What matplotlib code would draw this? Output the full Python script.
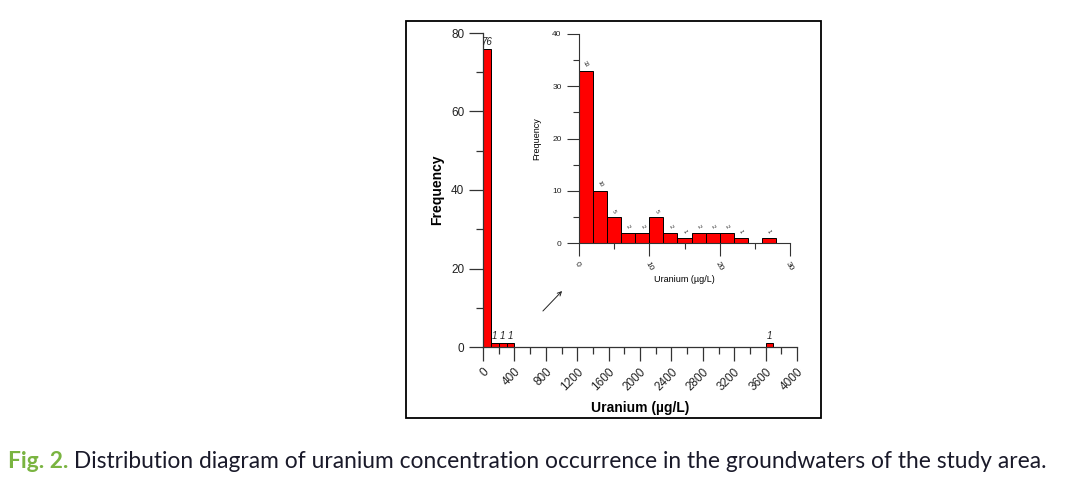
import matplotlib
matplotlib.use("Agg")
import matplotlib.pyplot as plt
from matplotlib.patches import Rectangle
from matplotlib.ticker import MultipleLocator

# ---- data ----
main_bin_left = [0, 100, 200, 300, 3600]
main_counts = [76, 1, 1, 1, 1]
main_bin_width = 100
main_xticks = [0, 400, 800, 1200, 1600, 2000, 2400, 2800, 3200, 3600, 4000]
main_yticks = [0, 20, 40, 60, 80]

inset_bin_left = [0, 2, 4, 6, 8, 10, 12, 14, 16, 18, 20, 22, 24, 26]
inset_counts = [33, 10, 5, 2, 2, 5, 2, 1, 2, 2, 2, 1, 0, 1]
inset_bin_width = 2
inset_xticks = [0, 10, 20, 30]
inset_yticks = [0, 10, 20, 30, 40]

caption_fig = "Fig. 2."
caption_text = " Distribution diagram of uranium concentration occurrence in the groundwaters of the study area."

W, H = 1068, 482
fig = plt.figure(figsize=(W / 100, H / 100), dpi=100)
plt.rcParams['font.family'] = ['Liberation Sans', 'DejaVu Sans']

def fx(px):
    return px / W

def fy(py):
    return 1 - py / H

# frame
fig.patches.append(Rectangle((fx(406), fy(418)), fx(821) - fx(406), fy(21) - fy(418),
                             transform=fig.transFigure, fill=False, edgecolor='black', lw=1.3))

axcol = '#333333'

# ---- main axes ----
ax = fig.add_axes([fx(483), fy(347), fx(797) - fx(483), fy(33) - fy(347)])
ax.bar(main_bin_left, main_counts, width=main_bin_width, align='edge',
       color='#ff0000', edgecolor='black', linewidth=0.7)
for xl, c in zip(main_bin_left, main_counts):
    ax.text(xl + main_bin_width / 2, c + 0.5, str(c), ha='center', va='bottom',
            fontsize=7, style='italic', color='#222222')
ax.set_xlim(0, 4000)
ax.set_ylim(0, 80)
ax.set_xticks(main_xticks)
ax.set_yticks(main_yticks)
ax.xaxis.set_minor_locator(MultipleLocator(200))
ax.yaxis.set_minor_locator(MultipleLocator(10))
ax.tick_params(axis='both', which='major', length=10, width=0.9, color=axcol, labelsize=8.5, labelcolor='#222222')
ax.tick_params(axis='both', which='minor', length=5, width=0.9, color=axcol)
ax.set_xticklabels([str(v) for v in main_xticks], rotation=45, ha='right', va='top', rotation_mode='anchor')
ax.spines['top'].set_visible(False)
ax.spines['right'].set_visible(False)
for s in ('left', 'bottom'):
    ax.spines[s].set_color(axcol)
    ax.spines[s].set_linewidth(0.9)
ax.set_ylabel("Frequency", fontsize=10, fontweight='bold', labelpad=5)
ax.set_xlabel("Uranium (\u00b5g/L)", fontsize=10, fontweight='bold', labelpad=6)
ax.patch.set_alpha(0)

# ---- inset axes ----
ia = fig.add_axes([fx(579), fy(243), fx(790) - fx(579), fy(34) - fy(243)])
ia.bar(inset_bin_left, inset_counts, width=inset_bin_width, align='edge',
       color='#ff0000', edgecolor='black', linewidth=0.7)
for xl, c in zip(inset_bin_left, inset_counts):
    if c > 0:
        ia.text(xl + inset_bin_width / 2, c + 0.6, str(c), ha='center', va='bottom',
                fontsize=4, rotation=-60, color='#222222')
ia.set_xlim(0, 30)
ia.set_ylim(0, 40)
ia.set_xticks(inset_xticks)
ia.set_yticks(inset_yticks)
ia.xaxis.set_minor_locator(MultipleLocator(5))
ia.yaxis.set_minor_locator(MultipleLocator(5))
ia.tick_params(axis='both', which='major', length=9, width=0.8, color=axcol, labelsize=6, labelcolor='#222222')
ia.tick_params(axis='both', which='minor', length=4.5, width=0.8, color=axcol)
ia.set_xticklabels([str(v) for v in inset_xticks], rotation=-60, ha='left', va='top', rotation_mode='anchor')
ia.spines['top'].set_visible(False)
ia.spines['right'].set_visible(False)
for s in ('left', 'bottom'):
    ia.spines[s].set_color(axcol)
    ia.spines[s].set_linewidth(0.8)
ia.set_ylabel("Frequency", fontsize=6.5, labelpad=8)
ia.set_xlabel("Uranium (\u00b5g/L)", fontsize=6.5, labelpad=2)
ia.patch.set_alpha(0)

# arrow
fig.add_artist(matplotlib.patches.FancyArrowPatch(
    (fx(541), fy(313)), (fx(564), fy(289)), transform=fig.transFigure,
    arrowstyle='->', mutation_scale=7, lw=0.7, color='#222222'))

# ---- caption ----
cap_fam = ['Lato', 'DejaVu Sans']
cap_size = 16
t1 = fig.text(fx(8), fy(468), caption_fig, fontsize=cap_size, fontweight='bold',
              color='#7ab441', family=cap_fam, va='baseline')
fig.canvas.draw()
r = fig.canvas.get_renderer()
bb1 = t1.get_window_extent(r)
t2 = fig.text(bb1.x1 / W, fy(468), caption_text, fontsize=cap_size, color='#1a1a2a',
              family=cap_fam, va='baseline')
fig.canvas.draw()
bb2 = t2.get_window_extent(r)
total = bb2.x1 - bb1.x0
scale = (1050 - 8) / total
t1.set_fontsize(cap_size * scale)
t2.set_fontsize(cap_size * scale)
fig.canvas.draw()
bb1 = t1.get_window_extent(r)
t2.set_position((bb1.x1 / W, fy(468)))

fig.savefig("out.png", dpi=100)
